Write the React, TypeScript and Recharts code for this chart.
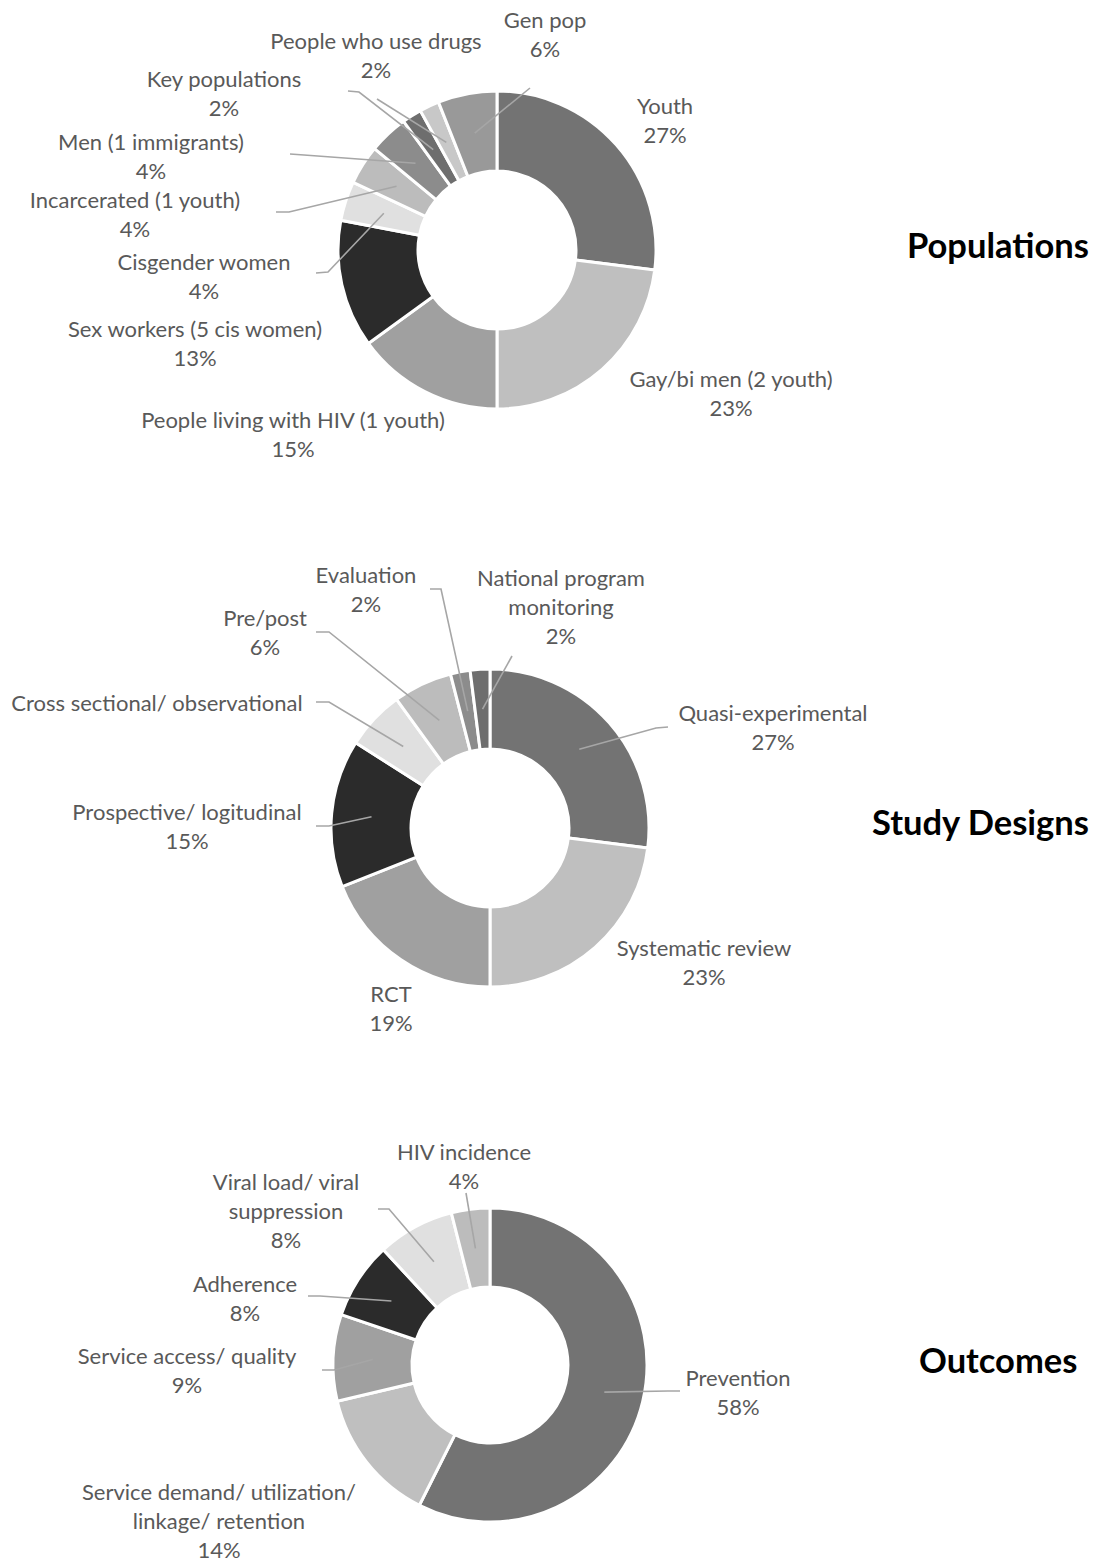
import React from 'react';
import { PieChart, Pie, Cell } from 'recharts';

// populations (share of studies, %)
const popNames = [
	'Youth',
	'Gay/bi men (2 youth)',
	'People living with HIV (1 youth)',
	'Sex workers (5 cis women)',
	'Cisgender women',
	'Incarcerated (1 youth)',
	'Men (1 immigrants)',
	'Key populations',
	'People who use drugs',
	'Gen pop',
];
const popValues = [27, 23, 15, 13, 4, 4, 4, 2, 2, 6];

// study designs (%)
const designNames = [
	'Quasi-experimental',
	'Systematic review',
	'RCT',
	'Prospective/ logitudinal',
	'Cross sectional/ observational',
	'Pre/post',
	'Evaluation',
	'National program monitoring',
];
const designValues = [27, 23, 19, 15, 6, 6, 2, 2];

// outcomes (%)
const outcomeNames = [
	'Prevention',
	'Service demand/ utilization/ linkage/ retention',
	'Service access/ quality',
	'Adherence',
	'Viral load/ viral suppression',
	'HIV incidence',
];
const outcomeValues = [58, 14, 9, 8, 8, 4];

const greys = ['#737373', '#bfbfbf', '#a0a0a0', '#2b2b2b', '#e0e0e0', '#bcbcbc', '#8c8c8c', '#6e6e6e', '#c8c8c8', '#999999'];

const FONT = 'Lato, "Noto Sans", sans-serif';
const LABEL_COLOR = '#595959';
const LINE_COLOR = '#a6a6a6';
const LINE_H = 29;

// label layout in page coords: text centre x, first line y, optional leader start + elbow,
// split = words on the first line, pct = show the percent line
type LabelPos = { x: number; y: number; line?: number[][]; split?: number; pct?: boolean };

const popLayout: LabelPos[] = [
	{ x: 665, y: 105 },
	{ x: 731, y: 378 },
	{ x: 293, y: 419 },
	{ x: 195, y: 328 },
	{ x: 204, y: 261, line: [[316, 273], [328, 272]] },
	{ x: 135, y: 199, line: [[276, 212], [289, 212]] },
	{ x: 151, y: 141, line: [[290, 154], [304, 155]] },
	{ x: 224, y: 78, line: [[348, 91], [359, 92]] },
	{ x: 376, y: 40, line: [[377, 99], [377, 99]] },
	{ x: 545, y: 19, line: [[530, 88], [530, 88]] },
];

const designLayout: LabelPos[] = [
	{ x: 773, y: 712, line: [[668, 727], [656, 728]] },
	{ x: 704, y: 947 },
	{ x: 391, y: 993 },
	{ x: 187, y: 811, line: [[316, 826], [329, 826]] },
	{ x: 157, y: 702, line: [[316, 702], [329, 702]], pct: false },
	{ x: 265, y: 617, line: [[316, 632], [329, 632]] },
	{ x: 366, y: 574, line: [[430, 589], [441, 589]] },
	{ x: 561, y: 577, line: [[512, 656], [512, 656]], split: 2 },
];

const outcomeLayout: LabelPos[] = [
	{ x: 738, y: 1377, line: [[680, 1391], [668, 1391]] },
	{ x: 219, y: 1491, split: 3 },
	{ x: 187, y: 1355, line: [[322, 1370], [334, 1370]] },
	{ x: 245, y: 1283, line: [[308, 1296], [320, 1296]] },
	{ x: 286, y: 1181, line: [[378, 1209], [389, 1209]], split: 3 },
	{ x: 464, y: 1151, line: [[466, 1193], [466, 1193]] },
];

type DonutProps = {
	top: number;
	height: number;
	cx: number;
	cy: number;
	outer: number;
	inner: number;
	names: string[];
	values: number[];
	layout: LabelPos[];
};

function Donut({ top, height, cx, cy, outer, inner, names, values, layout }: DonutProps) {
	const data = names.map((name, i) => ({ name, value: values[i] }));

	const renderLabel = (p: any) => {
		const pos = layout[p.index];
		if (!pos) return null;
		const rad = Math.PI / 180;
		const mr = (p.innerRadius + p.outerRadius) / 2;
		const ex = p.cx + mr * Math.cos(-p.midAngle * rad);
		const ey = p.cy + mr * Math.sin(-p.midAngle * rad);
		const words = String(p.name).split(' ');
		const lines = pos.split ? [words.slice(0, pos.split).join(' '), words.slice(pos.split).join(' ')] : [p.name];
		if (pos.pct !== false) lines.push(`${p.value}%`);
		const pts = pos.line ? [...pos.line.map(([x, y]) => `${x},${y - top}`), `${ex},${ey}`].join(' ') : null;
		return (
			<g key={`lbl-${p.index}`}>
				{pts && <polyline points={pts} fill='none' stroke={LINE_COLOR} strokeWidth={1.6} />}
				{lines.map((t, k) => (
					<text
						key={k}
						x={pos.x}
						y={pos.y - top + k * LINE_H}
						textAnchor='middle'
						dominantBaseline='central'
						fill={LABEL_COLOR}
						fontSize={22}
						fontFamily={FONT}
					>
						{t}
					</text>
				))}
			</g>
		);
	};

	return (
		<div style={{ position: 'absolute', left: 0, top }}>
			<PieChart width={1109} height={height} margin={{ top: 0, right: 0, bottom: 0, left: 0 }}>
				<Pie
					data={data}
					dataKey='value'
					nameKey='name'
					cx={cx}
					cy={cy}
					outerRadius={outer}
					innerRadius={inner}
					startAngle={90}
					endAngle={-270}
					stroke='#ffffff'
					strokeWidth={3}
					labelLine={false}
					label={renderLabel}
					isAnimationActive={false}
				>
					{data.map((d, i) => (
						<Cell key={d.name} fill={greys[i % greys.length]} />
					))}
				</Pie>
			</PieChart>
		</div>
	);
}

const titleStyle: React.CSSProperties = {
	position: 'absolute',
	fontFamily: FONT,
	fontWeight: 700,
	fontSize: 34.5,
	color: '#000',
	lineHeight: '40px',
	whiteSpace: 'nowrap',
};

export default function App() {
	return (
		<div style={{ position: 'absolute', left: 0, top: 0, width: 1109, height: 1561, background: '#fff', overflow: 'hidden' }}>
			<Donut top={0} height={470} cx={497} cy={250} outer={159} inner={79} names={popNames} values={popValues} layout={popLayout} />
			<Donut top={540} height={510} cx={490} cy={288} outer={159} inner={79} names={designNames} values={designValues} layout={designLayout} />
			<Donut top={1110} height={451} cx={490} cy={255} outer={157} inner={78} names={outcomeNames} values={outcomeValues} layout={outcomeLayout} />
			<div style={{ ...titleStyle, left: 907, top: 225 }}>Populations</div>
			<div style={{ ...titleStyle, left: 872, top: 802 }}>Study Designs</div>
			<div style={{ ...titleStyle, left: 919, top: 1340 }}>Outcomes</div>
		</div>
	);
}
